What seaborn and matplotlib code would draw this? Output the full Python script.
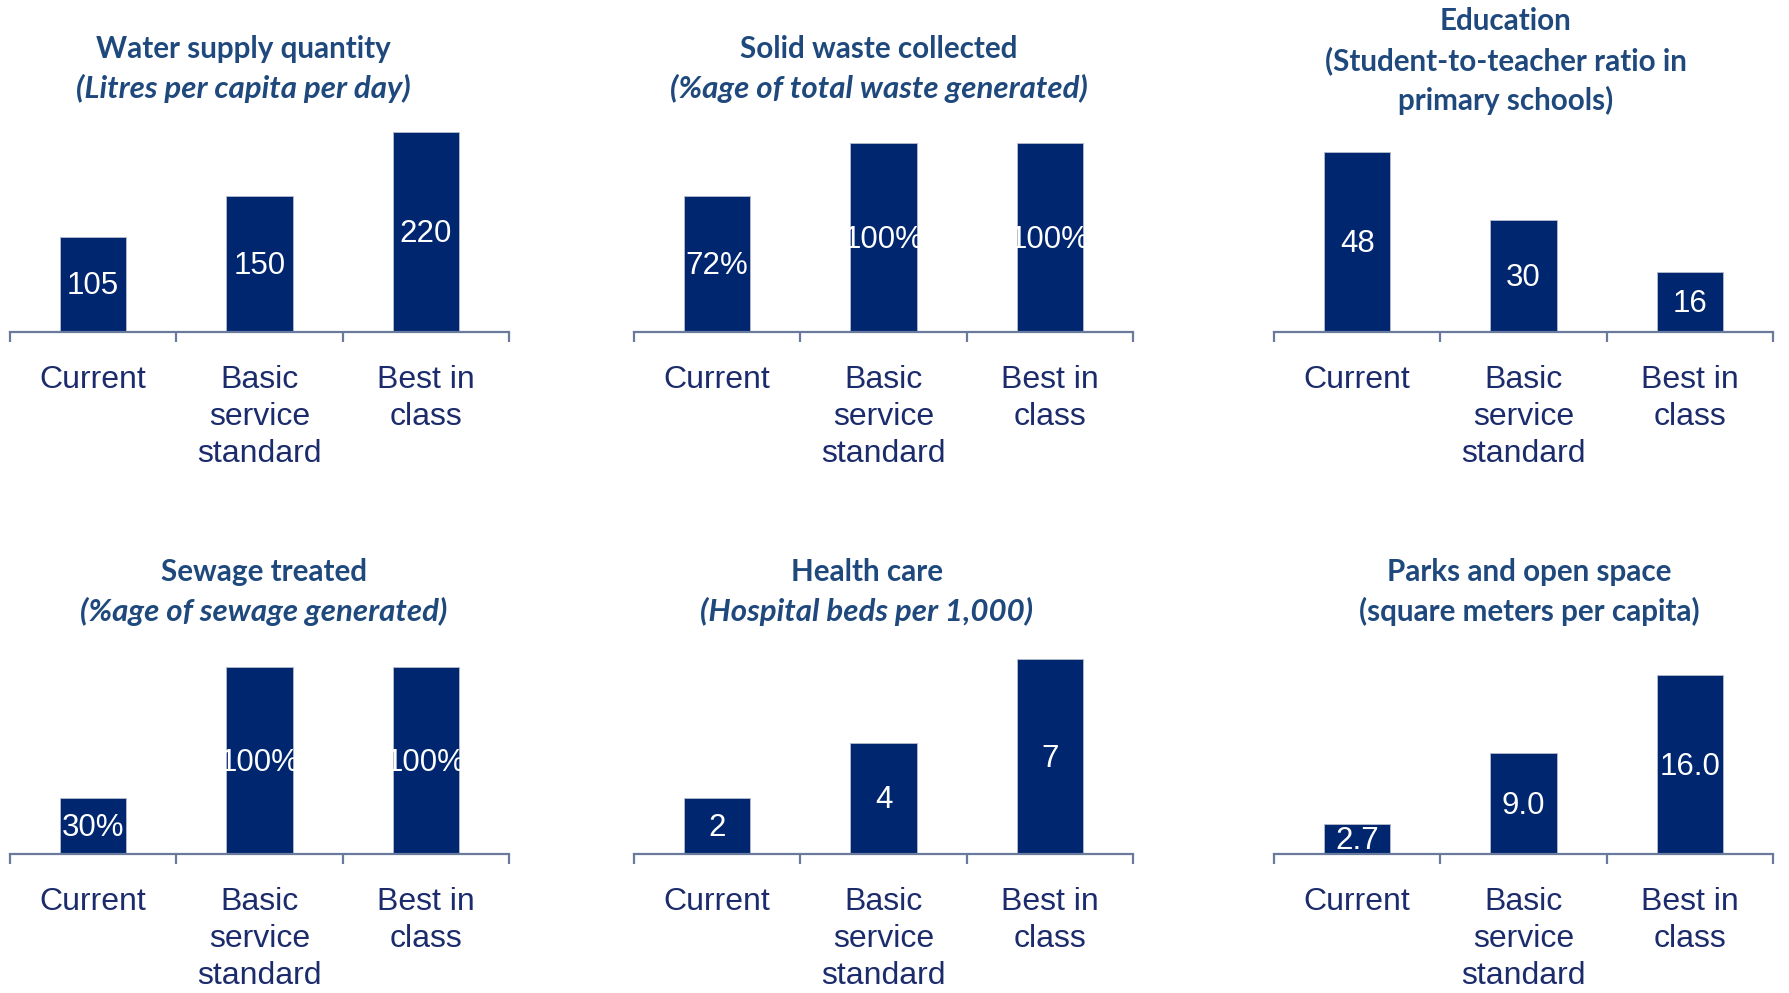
import matplotlib
matplotlib.use("Agg")
import matplotlib.pyplot as plt
import seaborn as sns

# data
categories = ["Current", "Basic\nservice\nstandard", "Best in\nclass"]
water_supply = [105, 150, 220]
solid_waste = [72, 100, 100]
education = [48, 30, 16]
sewage = [30, 100, 100]
health_care = [2, 4, 7]
parks = [2.7, 9.0, 16.0]

panel_values = [water_supply, solid_waste, education, sewage, health_care, parks]
panel_formats = ["{:.0f}", "{:.0f}%", "{:.0f}", "{:.0f}%", "{:.0f}", "{:.1f}"]
panel_titles = [
    ["Water supply quantity", "(Litres per capita per day)"],
    ["Solid waste collected", "(%age of total waste generated)"],
    ["Education", "(Student-to-teacher ratio in", "primary schools)"],
    ["Sewage treated", "(%age of sewage generated)"],
    ["Health care", "(Hospital beds per 1,000)"],
    ["Parks and open space", "(square meters per capita)"],
]
italic_sub = [True, True, False, True, True, False]


def main():
    sns.set_style("white")
    plt.rcParams["font.family"] = ["Liberation Sans", "DejaVu Sans"]

    W, H = 1789, 993
    fig = plt.figure(figsize=(W / 100, H / 100), dpi=100)
    fig.patch.set_facecolor("white")

    bar_color = "#00266F"
    text_color = "#1B2B6B"
    title_color = "#1F497D"
    axis_color = "#6A7A9C"

    # layout in pixels
    lefts = [10, 634, 1274, 10, 634, 1274]
    axis_y = [332, 332, 332, 854, 854, 854]
    ax_w, ax_h = 499, 240
    tallest_px = [200, 189, 180, 187, 195, 179]
    title_x = [243, 879, 1506, 264, 867, 1529]
    title_y = [49, 49, 21, 572, 572, 572]

    for i, vals in enumerate(panel_values):
        ax = fig.add_axes([lefts[i] / W, 1 - axis_y[i] / H, ax_w / W, ax_h / H])
        ax.patch.set_alpha(0)
        sns.barplot(x=categories, y=vals, ax=ax, color=bar_color, width=0.4,
                    saturation=1, edgecolor="#b8bccc", linewidth=0.6)
        ax.set_xlim(-0.5, 2.5)
        ax.set_ylim(0, max(vals) * ax_h / tallest_px[i])
        labels = ax.bar_label(ax.containers[0],
                              labels=[panel_formats[i].format(v) for v in vals],
                              label_type="center", color="white", fontsize=22.5)
        for t in labels:
            t.set_y(-1.5)

        for s in ["left", "top", "right"]:
            ax.spines[s].set_visible(False)
        ax.spines["bottom"].set_color(axis_color)
        ax.spines["bottom"].set_linewidth(1.6)
        ax.set_yticks([])
        ax.set_xticks([0, 1, 2])
        ax.set_xticklabels(categories, linespacing=1.32)
        ax.set_xticks([-0.5, 0.5, 1.5, 2.5], minor=True)
        ax.tick_params(axis="x", which="major", bottom=True, length=0, pad=23.5,
                       labelsize=23, labelcolor=text_color)
        ax.tick_params(axis="x", which="minor", bottom=True, length=7, width=1.6,
                       direction="out", color=axis_color)
        ax.set_xlabel("")
        ax.set_ylabel("")

        for j, line in enumerate(panel_titles[i]):
            italic = j > 0 and italic_sub[i]
            fig.text(title_x[i] / W, 1 - (title_y[i] + 39.5 * j) / H, line,
                     ha="center", va="center", fontsize=22.5 if italic else 21.3,
                     fontweight="bold", style="italic" if italic else "normal",
                     color=title_color, family=["Lato", "DejaVu Sans"])

    plt.savefig("out.png", dpi=100, facecolor="white")
    plt.close()


if __name__ == "__main__":
    main()
